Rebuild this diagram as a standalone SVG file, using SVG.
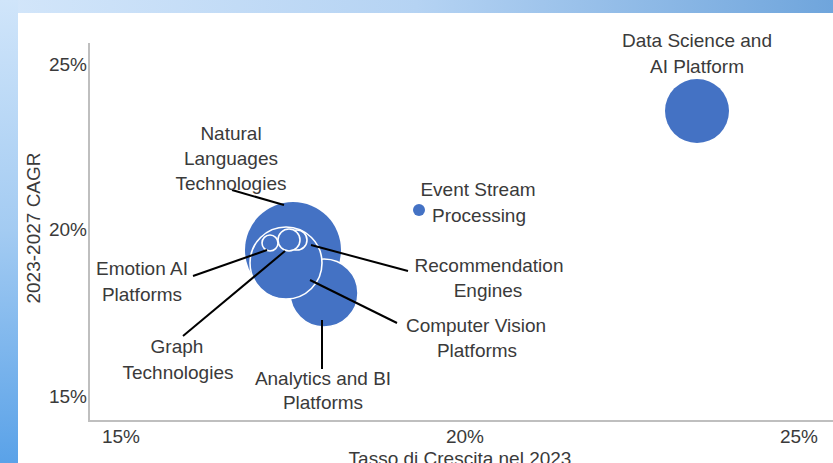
<svg xmlns="http://www.w3.org/2000/svg" width="833" height="463" viewBox="0 0 833 463">
<defs>
<linearGradient id="gTop" x1="0" y1="0" x2="1" y2="0">
<stop offset="0" stop-color="#d3e6fa"/>
<stop offset="0.5" stop-color="#b5d3f3"/>
<stop offset="1" stop-color="#6fa5dc"/>
</linearGradient>
<linearGradient id="gLeft" x1="0" y1="0" x2="0" y2="1">
<stop offset="0" stop-color="#d0e5fa"/>
<stop offset="0.5" stop-color="#a3cbf2"/>
<stop offset="1" stop-color="#5aa2e8"/>
</linearGradient>
<style>
text{font-family:"Liberation Sans",Arial,sans-serif;font-size:19px;fill:#3a3a3a}
.c{text-anchor:middle}
.r{text-anchor:end}
.b{fill:#4472c4}
.w{fill:#4472c4;stroke:#ffffff;stroke-width:1.6}
.ax{stroke:#bfbfbf;stroke-width:2;fill:none}
.ld{stroke:#000000;stroke-width:2;fill:none}
</style>
</defs>
<rect x="0" y="0" width="833" height="463" fill="#ffffff"/>
<rect x="0" y="0" width="833" height="13" fill="url(#gTop)"/>
<rect x="0" y="0" width="18" height="463" fill="url(#gLeft)"/>
<g id="axes">
<line class="ax" x1="89" y1="43" x2="89" y2="421"/>
<line class="ax" x1="88" y1="421" x2="833" y2="421"/>
<text class="r" x="87" y="71">25%</text>
<text class="r" x="87" y="236">20%</text>
<text class="r" x="87" y="403">15%</text>
<text class="c" x="121" y="443">15%</text>
<text class="c" x="465" y="443">20%</text>
<text class="c" x="799" y="443">25%</text>
<text class="c" x="460" y="465">Tasso di Crescita nel 2023</text>
<text class="c" transform="translate(40,228) rotate(-90)">2023-2027 CAGR</text>
</g>
<g id="bubble-nlt"><circle class="b" cx="293" cy="250" r="48"/></g>
<g id="bubble-analytics"><circle class="w" cx="324" cy="293" r="34"/></g>
<g id="bubble-cv"><circle class="w" cx="286" cy="263" r="36"/></g>
<g id="bubble-emotion"><circle class="w" cx="270" cy="243" r="8"/></g>
<g id="bubble-reco"><circle class="w" cx="297" cy="240" r="10"/></g>
<g id="bubble-graph"><circle class="w" cx="289" cy="240" r="11"/></g>
<g id="bubble-ds"><circle class="b" cx="697" cy="111" r="32"/></g>
<g id="bubble-esp"><circle class="b" cx="419" cy="210" r="6"/></g>
<g id="connectors">
<line class="ld" x1="232" y1="190" x2="284" y2="205"/>
<line class="ld" x1="193" y1="276" x2="267" y2="250"/>
<line class="ld" x1="183" y1="336" x2="285" y2="251"/>
<line class="ld" x1="311" y1="245" x2="408" y2="271"/>
<line class="ld" x1="310" y1="280" x2="397" y2="323"/>
<line class="ld" x1="322" y1="320" x2="322" y2="369"/>
</g>
<g id="labels">
<text class="c" x="697" y="47">Data Science and</text>
<text class="c" x="697" y="73">AI Platform</text>
<text class="c" x="231" y="140">Natural</text>
<text class="c" x="231" y="165">Languages</text>
<text class="c" x="231" y="190">Technologies</text>
<text class="c" x="478" y="196">Event Stream</text>
<text class="c" x="479" y="222">Processing</text>
<text class="c" x="489" y="272">Recommendation</text>
<text class="c" x="488" y="297">Engines</text>
<text class="c" x="476" y="332">Computer Vision</text>
<text class="c" x="477" y="357">Platforms</text>
<text class="c" x="142" y="275">Emotion AI</text>
<text class="c" x="142" y="301">Platforms</text>
<text class="c" x="177" y="353">Graph</text>
<text class="c" x="178" y="379">Technologies</text>
<text class="c" x="323" y="385">Analytics and BI</text>
<text class="c" x="323" y="409">Platforms</text>
</g>
</svg>
